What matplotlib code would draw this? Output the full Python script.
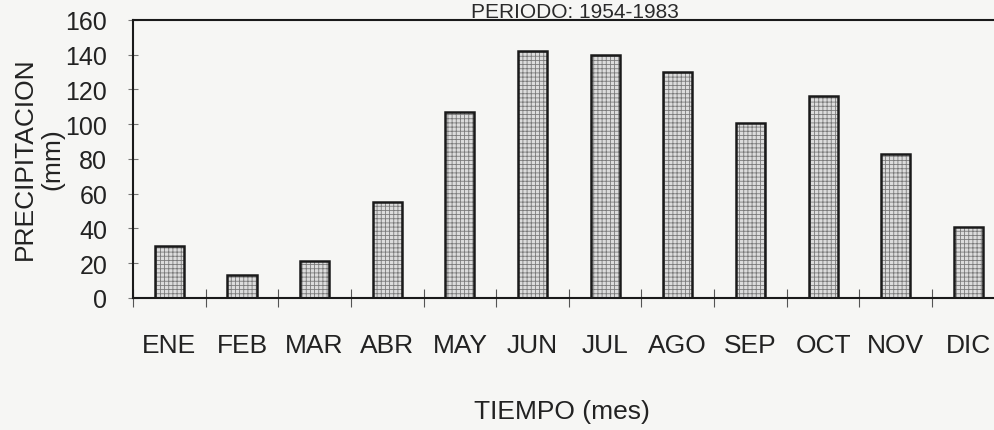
import matplotlib.pyplot as plt
import numpy as np

plt.rcParams.update({
    "font.family": ["Liberation Sans", "DejaVu Sans"],
    "hatch.linewidth": 0.6,
})

months = ["ENE", "FEB", "MAR", "ABR", "MAY", "JUN",
          "JUL", "AGO", "SEP", "OCT", "NOV", "DIC"]
precip = [30, 13, 21, 55, 107, 142, 140, 130, 101, 116, 83, 41]
yticks = [0, 20, 40, 60, 80, 100, 120, 140, 160]

bg = "#f6f6f4"
fig = plt.figure(figsize=(9.95, 4.31), dpi=100, facecolor=bg)
ax = fig.add_axes([0.1337, 0.3063, 0.876, 0.645], facecolor=bg)

x = np.arange(len(months))
# hatched fill (grey stipple) then black outline on top
ax.bar(x, precip, width=0.4, color="#dcdcdc", edgecolor="#7a7a7a",
       hatch="++++", linewidth=0, zorder=2)
ax.bar(x, precip, width=0.4, fill=False, edgecolor="#1a1a1a",
       linewidth=1.8, zorder=3)

ax.set_xlim(-0.5, 11.5)
ax.set_ylim(0, 160)
ax.set_yticks(yticks)

# month labels at the centres, tick marks at the boundaries
ax.set_xticks(x)
ax.set_xticklabels(months)
ax.set_xticks(np.arange(-0.5, 12, 1), minor=True)
ax.tick_params(axis="x", which="major", length=0, pad=25, labelsize=19,
               labelcolor="#222222")
ax.tick_params(axis="x", which="minor", direction="inout", length=13,
               width=0.8, color="#555555")
ax.tick_params(axis="y", direction="inout", length=7, width=0.8,
               color="#777777", pad=15, labelsize=18, labelcolor="#222222")

for s in ["left", "bottom", "top"]:
    ax.spines[s].set_linewidth(1.5)
    ax.spines[s].set_color("#1a1a1a")
ax.spines["right"].set_visible(False)

fig.text(0.039, 0.631, "PRECIPITACION\n(mm)", rotation=90, ha="center",
         va="center", multialignment="center", fontsize=19,
         linespacing=1.2, color="#222222")
fig.text(0.565, 0.044, "TIEMPO (mes)", ha="center", va="center",
         fontsize=19, color="#222222")
fig.text(0.578, 0.970, "PERIODO: 1954-1983", ha="center", va="center",
         fontsize=15, color="#2a2a2a")

plt.savefig("out.png", dpi=100, facecolor=bg)
